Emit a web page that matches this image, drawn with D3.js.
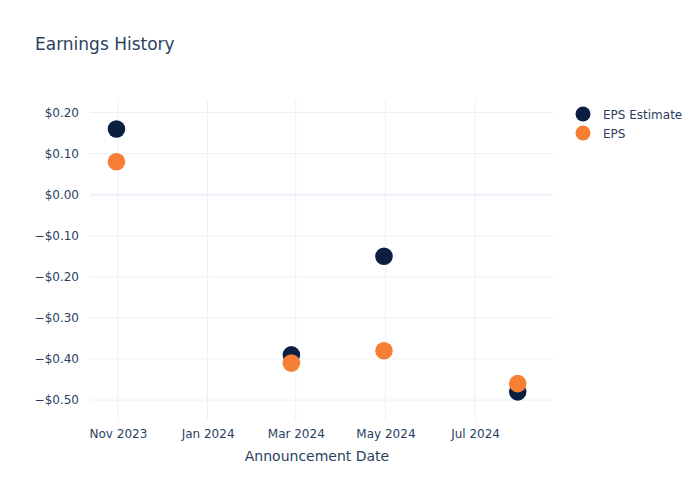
<!DOCTYPE html>
<html>
<head>
<meta charset="utf-8">
<script src="https://cdn.jsdelivr.net/npm/d3@7"></script>
<style>
  body { margin: 0; background: #fff; }
  svg { font-family: "DejaVu Sans", sans-serif; }
</style>
</head>
<body>
<svg width="700" height="500"></svg>
<script>
const dates = ["2023-10-31", "2024-02-27", "2024-04-30", "2024-07-30"];
const epsEstimate = [0.16, -0.39, -0.15, -0.48];
const epsActual = [0.08, -0.41, -0.38, -0.46];
const yTicks = [0.2, 0.1, 0, -0.1, -0.2, -0.3, -0.4, -0.5];
const xTicks = ["2023-11-01", "2024-01-01", "2024-03-01", "2024-05-01", "2024-07-01"];
const seriesNames = ["EPS Estimate", "EPS"];
const seriesColors = ["#0b1f42", "#f77f35"];

const svg = d3.select("svg");
const textColor = "#2a3f5f";
const gridColor = "#ebf0f8";
const parse = d3.utcParse("%Y-%m-%d");

const plot = {left: 90, right: 553, top: 101, bottom: 421};

const x = d3.scaleUtc()
    .domain([parse("2023-10-13"), parse("2024-08-23")])
    .range([plot.left, plot.right]);

const y = d3.scaleLinear()
    .domain([-0.551, 0.228])
    .range([plot.bottom, plot.top]);

// title
svg.append("text")
    .attr("x", 35).attr("y", 50)
    .attr("fill", textColor)
    .style("font-size", "17px")
    .text("Earnings History");

// grid
svg.append("g").selectAll("line")
    .data(xTicks.map(parse))
    .join("line")
    .attr("x1", d => x(d)).attr("x2", d => x(d))
    .attr("y1", plot.top - 1).attr("y2", plot.bottom - 1)
    .attr("stroke", gridColor).attr("stroke-width", 1);

svg.append("g").selectAll("line")
    .data(yTicks)
    .join("line")
    .attr("x1", plot.left).attr("x2", plot.right)
    .attr("y1", d => y(d)).attr("y2", d => y(d))
    .attr("stroke", gridColor)
    .attr("stroke-width", d => d === 0 ? 2 : 1);

// axes
const fmt = d => (d < 0 ? "\u2212" : "") + "$" + Math.abs(d).toFixed(2);

const yAxis = svg.append("g")
    .attr("transform", `translate(${plot.left},0)`)
    .call(d3.axisLeft(y).tickValues(yTicks).tickFormat(fmt).tickSize(0).tickPadding(11));
yAxis.select(".domain").remove();
yAxis.selectAll("text").attr("fill", textColor).style("font-size", "12px").style("font-family", "DejaVu Sans");

const xAxis = svg.append("g")
    .attr("transform", `translate(0,${plot.bottom - 1})`)
    .call(d3.axisBottom(x).tickValues(xTicks.map(parse)).tickFormat(d3.utcFormat("%b %Y")).tickSize(0).tickPadding(9));
xAxis.select(".domain").remove();
xAxis.selectAll("text").attr("fill", textColor).style("font-size", "12px").style("font-family", "DejaVu Sans");

svg.append("text")
    .attr("x", 317)
    .attr("y", 461)
    .attr("text-anchor", "middle")
    .attr("fill", textColor)
    .style("font-size", "14px")
    .text("Announcement Date");

// points
const series = [epsEstimate, epsActual];
series.forEach((vals, i) => {
    svg.append("g").selectAll("circle")
        .data(vals.map((v, j) => ({date: parse(dates[j]), value: v})))
        .join("circle")
        .attr("cx", d => x(d.date))
        .attr("cy", d => y(d.value))
        .attr("r", 8.8)
        .attr("fill", seriesColors[i]);
});

// legend
const legend = svg.append("g").selectAll("g")
    .data(seriesNames)
    .join("g")
    .attr("transform", (d, i) => `translate(583,${114 + i * 19})`);

legend.append("circle")
    .attr("r", 7.5)
    .attr("fill", (d, i) => seriesColors[i]);

legend.append("text")
    .attr("x", 20).attr("y", 4.5)
    .attr("fill", textColor)
    .style("font-size", "12px")
    .text(d => d);
</script>
</body>
</html>
